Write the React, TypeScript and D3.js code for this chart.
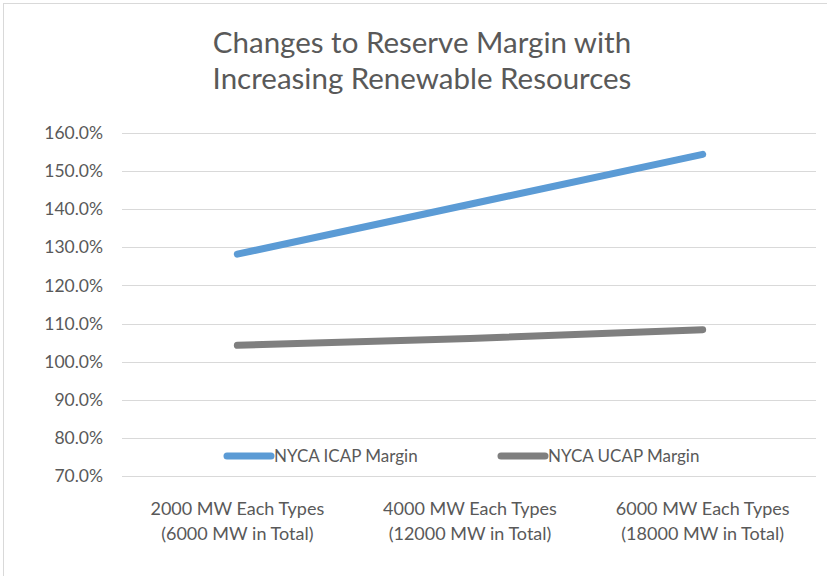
import { useEffect, useRef } from 'react';
import * as d3 from 'd3';

const categories = [
  ['2000 MW Each Types', '(6000 MW in Total)'],
  ['4000 MW Each Types', '(12000 MW in Total)'],
  ['6000 MW Each Types', '(18000 MW in Total)'],
];
const icapMargin = [128.2, 141.3, 154.4];
const ucapMargin = [104.3, 106.1, 108.4];
const yTicks = [70, 80, 90, 100, 110, 120, 130, 140, 150, 160];
const titleLines = ['Changes to Reserve Margin with', 'Increasing Renewable Resources'];

const series = [
  { name: 'NYCA ICAP Margin', values: icapMargin, color: '#5B9BD5' },
  { name: 'NYCA UCAP Margin', values: ucapMargin, color: '#7F7F7F' },
];

const W = 827;
const H = 576;
const FONT = 'Lato, "Open Sans", sans-serif';

export default function App() {
  const svgRef = useRef<SVGSVGElement>(null);

  useEffect(() => {
    if (!svgRef.current) return;
    const svg = d3.select(svgRef.current);
    svg.selectAll('*').remove();

    const margin = { left: 121, right: 9, top: 133, bottom: 100 };

    // outer chart border
    svg.append('rect')
      .attr('x', 3.5).attr('y', 3.5)
      .attr('width', W + 10).attr('height', H + 10)
      .attr('fill', '#fff')
      .attr('stroke', '#d9d9d9');

    // title
    svg.append('g').selectAll('text')
      .data(titleLines)
      .join('text')
      .attr('x', 422)
      .attr('y', (_, i) => 53 + i * 36)
      .attr('text-anchor', 'middle')
      .style('font-family', FONT)
      .style('font-size', '29.5px')
      .style('fill', '#595959')
      .text(d => d);

    const x = d3.scaleBand<number>()
      .domain(categories.map((_, i) => i))
      .range([margin.left, W - margin.right + 1]);

    const y = d3.scaleLinear()
      .domain([70, 160])
      .range([476, margin.top]);

    // gridlines
    svg.append('g').selectAll('line')
      .data(yTicks)
      .join('line')
      .attr('x1', 122).attr('x2', 816)
      .attr('y1', d => Math.round(y(d)) + 0.5)
      .attr('y2', d => Math.round(y(d)) + 0.5)
      .attr('stroke', '#d9d9d9')
      .attr('stroke-width', 1);

    // y-axis labels
    svg.append('g').selectAll('text')
      .data(yTicks)
      .join('text')
      .attr('x', 103)
      .attr('y', d => y(d))
      .attr('dy', '0.35em')
      .attr('text-anchor', 'end')
      .style('font-family', FONT)
      .style('font-size', '17.5px')
      .style('fill', '#595959')
      .text(d => `${d.toFixed(1)}%`);

    // x-axis labels
    const xl = svg.append('g').selectAll('text')
      .data(categories)
      .join('text')
      .attr('x', (_, i) => (x(i) || 0) + x.bandwidth() / 2)
      .attr('y', 515)
      .attr('text-anchor', 'middle')
      .style('font-family', FONT)
      .style('font-size', '18px')
      .style('fill', '#595959');
    xl.selectAll('tspan')
      .data(d => d)
      .join('tspan')
      .attr('x', function () {
        return (this.parentNode as SVGTextElement).getAttribute('x');
      })
      .attr('dy', (_, i) => (i === 0 ? 0 : 25))
      .text(d => d);

    // lines
    const line = d3.line<number>()
      .x((_, i) => (x(i) || 0) + x.bandwidth() / 2)
      .y(d => y(d));

    svg.append('g').selectAll('path')
      .data(series)
      .join('path')
      .attr('d', d => line(d.values))
      .attr('fill', 'none')
      .attr('stroke', d => d.color)
      .attr('stroke-width', 7)
      .attr('stroke-linecap', 'round')
      .attr('stroke-linejoin', 'round');

    // legend
    const legendX = [227, 501];
    const legend = svg.append('g').selectAll('g')
      .data(series)
      .join('g')
      .attr('transform', (_, i) => `translate(${legendX[i]},456)`);
    legend.append('line')
      .attr('x1', 0).attr('x2', 44)
      .attr('stroke', d => d.color)
      .attr('stroke-width', 7)
      .attr('stroke-linecap', 'round');
    legend.append('text')
      .attr('x', 47)
      .attr('dy', '0.35em')
      .style('font-family', FONT)
      .style('font-size', '17px')
      .style('fill', '#595959')
      .text(d => d.name);
  }, []);

  return (
    <svg
      ref={svgRef}
      width={W}
      height={H}
      style={{ position: 'absolute', left: 0, top: 0, background: '#fff' }}
    />
  );
}
